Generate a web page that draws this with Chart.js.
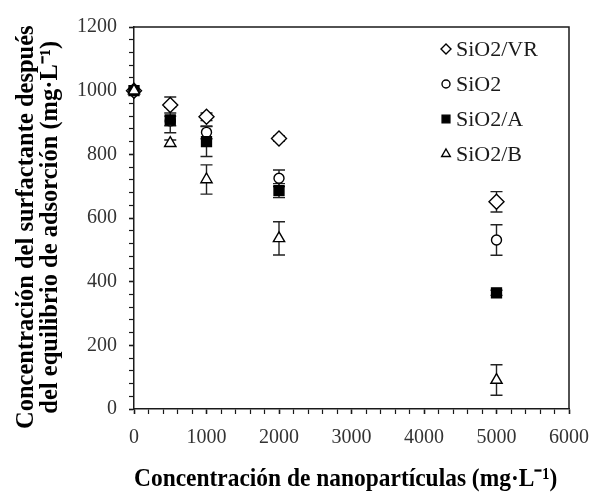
<!DOCTYPE html>
<html>
<head>
<meta charset="utf-8">
<script src="https://cdn.jsdelivr.net/npm/chart.js@4.4.1/dist/chart.umd.min.js"></script>
<style>
  html, body { margin: 0; padding: 0; background: #fff; }
  #wrap { width: 596px; height: 498px; }
</style>
</head>
<body>
<div id="wrap"><canvas id="chart" width="596" height="498"></canvas></div>
<script>
// concentration of nanoparticles (mg/L)
const xValues = [0, 500, 1000, 2000, 5000];

const seriesNames = ['SiO2/VR', 'SiO2', 'SiO2/A', 'SiO2/B'];
const vrValues   = [1000, 955, 918, 850, 651];
const sio2Values = [1000, 905, 869, 725, 531];
const aValues    = [1000, 908, 840, 686, 365];
const bValues    = [1000, 835, 721, 536, 91];

const vrErr   = [0, 25, 12, 8, 32];
const sio2Err = [0, 15, 20, 26, 48];
const aErr    = [0, 40, 47, 22, 8];
const bErr    = [0, 10, 46, 52, 48];

const xTicks = [0, 1000, 2000, 3000, 4000, 5000, 6000];
const yTicks = [0, 200, 400, 600, 800, 1000, 1200];

const serif = "'Liberation Serif', 'Times New Roman', serif";
const ink = '#1a1a1a';

function toPoints(vals) {
    return xValues.map((x, i) => ({ x: x, y: vals[i] }));
}

const styles = [
    { pointStyle: 'rectRot',  radius: 7.5, fill: '#fff', legendR: 5 },
    { pointStyle: 'circle',   radius: 5,   fill: '#fff', legendR: 4 },
    { pointStyle: 'rect',     radius: 7,   fill: '#000', legendR: 5.5 },
    { pointStyle: 'triangle', radius: 6.5, fill: '#fff', legendR: 5 }
];
const allValues = [vrValues, sio2Values, aValues, bValues];
const allErrs = [vrErr, sio2Err, aErr, bErr];

const datasets = seriesNames.map((name, i) => ({
    label: name,
    data: toPoints(allValues[i]),
    errors: allErrs[i],
    showLine: false,
    clip: false,
    pointStyle: styles[i].pointStyle,
    pointRadius: styles[i].radius,
    pointHoverRadius: styles[i].radius,
    pointBackgroundColor: styles[i].fill,
    pointBorderColor: '#000',
    pointBorderWidth: 1.4,
    order: seriesNames.length - i
}));

// error bars go under the markers
const errorBars = {
    id: 'errorBars',
    beforeDatasetsDraw(chart) {
        const ctx = chart.ctx;
        const xs = chart.scales.x, ys = chart.scales.y;
        ctx.save();
        ctx.strokeStyle = '#222';
        ctx.lineWidth = 1.4;
        chart.data.datasets.forEach(ds => {
            ds.data.forEach((p, j) => {
                const e = ds.errors[j];
                if (!e) return;
                const px = xs.getPixelForValue(p.x);
                const top = ys.getPixelForValue(p.y + e);
                const bot = ys.getPixelForValue(p.y - e);
                ctx.beginPath();
                ctx.moveTo(px, top); ctx.lineTo(px, bot);
                ctx.moveTo(px - 6, top); ctx.lineTo(px + 6, top);
                ctx.moveTo(px - 6, bot); ctx.lineTo(px + 6, bot);
                ctx.stroke();
            });
        });
        ctx.restore();
    }
};

// box around plot + legend inside the top right corner
const frameAndLegend = {
    id: 'frameAndLegend',
    afterDraw(chart) {
        const ctx = chart.ctx;
        const a = chart.chartArea;
        ctx.save();
        ctx.strokeStyle = ink;
        ctx.lineWidth = 1.5;
        ctx.beginPath();
        ctx.moveTo(a.left, a.top);
        ctx.lineTo(a.right, a.top);
        ctx.lineTo(a.right, a.bottom);
        ctx.stroke();

        const lx = a.right - 123, ly = a.top + 22;
        ctx.font = '22px ' + serif;
        ctx.textBaseline = 'middle';
        chart.data.datasets.forEach((ds, i) => {
            const y = ly + i * 35;
            ctx.fillStyle = styles[i].fill;
            ctx.strokeStyle = '#000';
            ctx.lineWidth = 1.4;
            Chart.helpers.drawPoint(ctx, {
                pointStyle: styles[i].pointStyle,
                radius: styles[i].legendR,
                borderWidth: 1.4
            }, lx, y);
            ctx.fillStyle = ink;
            ctx.fillText(ds.label, lx + 10, y + 1);
        });
        ctx.restore();
    }
};

new Chart(document.getElementById('chart'), {
    type: 'scatter',
    data: { datasets: datasets },
    options: {
        responsive: false,
        animation: false,
        layout: { padding: { top: 27, right: 27, left: 0, bottom: 0 } },
        plugins: {
            legend: { display: false },
            tooltip: { enabled: false }
        },
        scales: {
            x: {
                type: 'linear',
                min: 0,
                max: 6000,
                afterFit(scale) {
                    scale.height = 89;
                    // let the layout padding decide where the plot ends
                    scale.paddingLeft = 0;
                    scale.paddingRight = 0;
                },
                border: { color: ink, width: 1.5 },
                grid: {
                    drawOnChartArea: false,
                    drawTicks: true,
                    tickLength: 5,
                    color: ink,
                    tickWidth: c => (c.tick && c.tick.value % 1000 === 0 ? 1.6 : 1.2)
                },
                ticks: {
                    stepSize: 200,
                    autoSkip: false,
                    maxRotation: 0,
                    padding: 12,
                    color: '#333',
                    font: { family: serif, size: 20 },
                    callback: v => (xTicks.includes(v) ? String(v) : '')
                },
                title: {
                    display: true,
                    // trailing spaces nudge the centred title a bit to the left
                    text: 'Concentración de nanopartículas (mg·L\u207B\u00B9)  ',
                    color: '#000',
                    font: { family: serif, size: 26, weight: 'bold', lineHeight: 1 },
                    padding: { top: 0, bottom: 6 }
                }
            },
            y: {
                type: 'linear',
                min: 0,
                max: 1200,
                afterFit(scale) { scale.width = 134; },
                border: { color: ink, width: 1.5 },
                grid: {
                    drawOnChartArea: false,
                    drawTicks: true,
                    tickLength: 5,
                    color: ink,
                    tickWidth: c => (c.tick && c.tick.value % 200 === 0 ? 1.6 : 1.2)
                },
                ticks: {
                    stepSize: 40,
                    autoSkip: false,
                    padding: 12,
                    color: '#333',
                    font: { family: serif, size: 20 },
                    callback: v => (yTicks.includes(v) ? String(v) : '')
                },
                title: {
                    display: true,
                    text: ['Concentración del surfactante después   ', 'del equilibrio de adsorción (mg·L\u207B\u00B9)   '],
                    color: '#000',
                    font: { family: serif, size: 24.5, weight: 'bold', lineHeight: 0.96 },
                    padding: { top: 15, bottom: 0 }
                }
            }
        }
    },
    plugins: [errorBars, frameAndLegend]
});
</script>
</body>
</html>
